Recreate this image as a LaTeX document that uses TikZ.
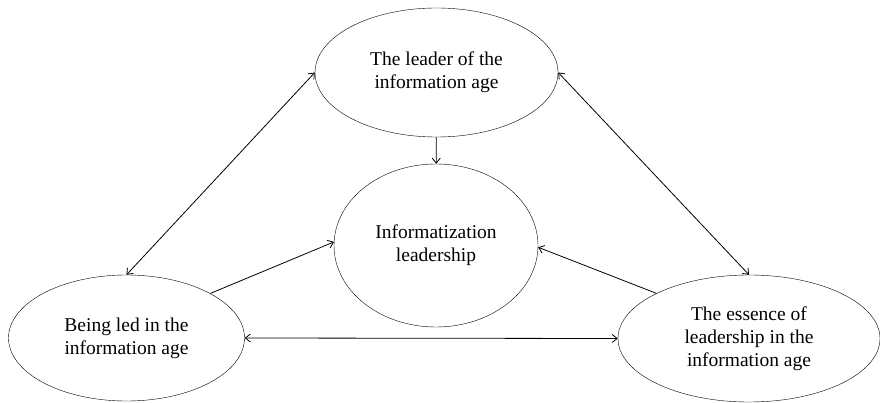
\documentclass[tikz,border=0pt]{standalone}
\usepackage{fontspec}
\setmainfont{Liberation Serif}
\usetikzlibrary{shapes.geometric}
\usetikzlibrary{arrows.meta}

\tikzset{
    bubble/.style={draw, ellipse, inner sep=0pt, align=center, font=\fontsize{19.5}{23}\selectfont},
    link/.style={-{Straight Barb[length=5pt,width=8pt]}, line width=.8pt},
    twoway/.style={{Straight Barb[length=5pt,width=8pt]}-{Straight Barb[length=5pt,width=8pt]}, line width=.8pt}
}

\begin{document}
\begin{tikzpicture}[x=1pt,y=-1pt]
        \useasboundingbox (0,0) rectangle (880,403);
        \node[bubble, minimum width=243pt, minimum height=129pt] (leader) at (436.5,72.5) {The leader of the\\information age};
        \node[bubble, minimum width=204pt, minimum height=163pt] (core) at (436,245.5) {Informatization\\leadership};
        \node[bubble, minimum width=236pt, minimum height=126pt] (led) at (126.5,338) {Being led in the\\information age};
        \node[bubble, minimum width=262pt, minimum height=127pt] (essence) at (749,338.5) {The essence of\\leadership in the\\information age};

        \draw[link] (leader) -- (core);
        \draw[twoway] (led.north) -- (leader.west);
        \draw[twoway] (leader.east) -- (essence.north);
        \draw[link] (led.28) -- (core.178);
        \draw[link] (essence.154) -- (core.359);
        \draw[twoway] (led.east) -- (essence.west);
    \end{tikzpicture}
\end{document}
